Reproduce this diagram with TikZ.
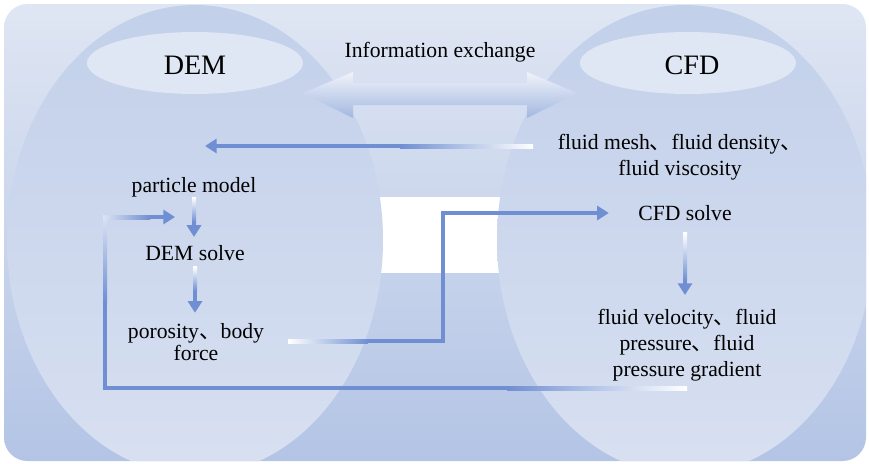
\documentclass[tikz,border=0pt]{standalone}
\usepackage{fontspec}
\setmainfont{Liberation Serif}
\newfontfamily\cjk{Noto Sans CJK SC}
\usetikzlibrary{arrows.meta,calc}
\newcommand{\dunhao}{{\cjk 、}}
\definecolor{linkblue}{HTML}{6F8FD2}
\definecolor{bgtop}{HTML}{DFE6F3}
\definecolor{bgbot}{HTML}{B3C4E5}
\definecolor{elltop}{HTML}{C2D0EA}
\definecolor{ellbot}{HTML}{D8E0F1}
\definecolor{caprim}{HTML}{DFE6F4}
\definecolor{capmid}{HTML}{CBD6ED}
\definecolor{arrtop}{HTML}{F0F3FA}
\definecolor{arrmid}{HTML}{C5D2EC}
\definecolor{arrbot}{HTML}{A2B7E0}
\tikzset{
  bodytxt/.style={font=\fontsize{18.5}{22}\selectfont, inner sep=0pt, align=center},
  headtxt/.style={font=\fontsize{24}{28}\selectfont, inner sep=0pt},
  flow/.style={draw=linkblue, line width=3.4pt, -{Triangle[width=12pt,length=10pt]}},
}
\begin{document}
\begin{tikzpicture}[x=0.03cm,y=-0.03cm]
\useasboundingbox (0,0) rectangle (869,463);
\shade[top color=bgtop, bottom color=bgbot, rounded corners=20pt] (4,4) rectangle (866,461);
\begin{scope}
  \clip[rounded corners=20pt] (4,4) rectangle (866,461);
  \fill[white] (370,197) rectangle (510,273);
  \shade[top color=elltop, bottom color=ellbot] (195,240) ellipse [x radius=188, y radius=235];
  \shade[top color=elltop, bottom color=ellbot] (685,240) ellipse [x radius=188, y radius=235];
\end{scope}
\shade[top color=caprim, middle color=capmid, bottom color=caprim] (195,63) ellipse [x radius=108, y radius=31];
\shade[top color=caprim, middle color=capmid, bottom color=caprim] (688,63) ellipse [x radius=108, y radius=31];
\shade[top color=arrtop, middle color=arrmid, bottom color=arrbot] (303,93) -- (353,72) -- (353,83) -- (527,83) -- (527,72) -- (577,93) -- (527,118) -- (527,105) -- (353,105) -- (353,118) -- cycle;

\node[headtxt] (demtitle) at (195,65) {DEM};
\node[headtxt] (cfdtitle) at (692,65) {CFD};
\node[bodytxt] (info) at (440,52) {Information exchange};
\node[bodytxt] (mesh) at (680,157) {fluid mesh\dunhao fluid density\dunhao\\fluid viscosity};
\node[bodytxt] (pm) at (194,187) {particle model};
\node[bodytxt] (demsolve) at (195,253) {DEM solve};
\node[bodytxt, font=\fontsize{18.5}{19.5}\selectfont] (porosity) at (196,342) {porosity\dunhao body\\force};
\node[bodytxt] (cfdsolve) at (685,213) {CFD solve};
\node[bodytxt] (velocity) at (687,345) {fluid velocity\dunhao fluid\\pressure\dunhao fluid\\pressure gradient};

\coordinate (meshout) at (533,146);
\coordinate (demin) at (205,146);
\coordinate (porout) at (288,341);
\coordinate (jog) at (443,300);
\coordinate (fbout) at (687,388);
\coordinate (loop) at (105,388);
\coordinate (fbin) at (175,217);

\draw[flow] (meshout) -- (demin);
\shade[left color=linkblue, right color=white] ($(meshout)+(-133,-2)$) rectangle ($(meshout)+(0,2)$);
\draw[flow, shorten >=25pt] (porout) -| (jog) |- (cfdsolve.west);
\shade[left color=white, right color=linkblue] ($(porout)+(0,-2)$) rectangle ($(porout)+(80,2)$);
\draw[flow] (fbout) -- (loop) |- (fbin);
\shade[left color=linkblue, right color=white] ($(fbout)+(-180,-2)$) rectangle ($(fbout)+(0,2)$);
\shade[top color=linkblue!25, bottom color=linkblue] ($(fbin)+(-72,-2)$) rectangle ($(fbin)+(-68,85)$);
\shade[left color=linkblue!25, right color=linkblue] ($(fbin)+(-72,-2)$) rectangle ($(fbin)+(-25,2)$);

\draw[flow, shorten >=7pt] (pm.south) -- (pm.south |- demsolve.north);
\shade[top color=white, bottom color=linkblue] ($(pm.south)+(-2,0)$) rectangle ($(pm.south)+(2,25)$);
\draw[flow, shorten <=5pt, shorten >=8.5pt] (demsolve.south) -- (demsolve.south |- porosity.north);
\shade[top color=white, bottom color=linkblue] ($(demsolve.south)+(-2,6)$) rectangle ($(demsolve.south)+(2,30)$);
\draw[flow, shorten <=10pt, shorten >=12pt] (cfdsolve.south) -- (cfdsolve.south |- velocity.north);
\shade[top color=white, bottom color=linkblue] ($(cfdsolve.south)+(-2,12)$) rectangle ($(cfdsolve.south)+(2,60)$);
\end{tikzpicture}
\end{document}
